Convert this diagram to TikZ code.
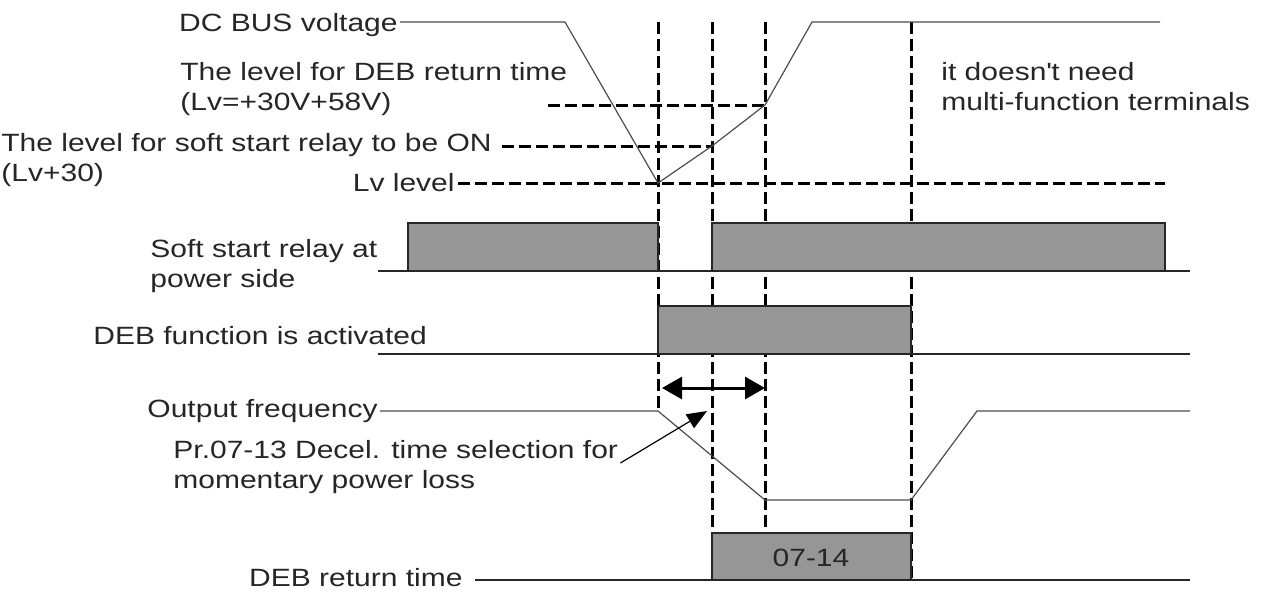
\documentclass[tikz,border=0pt]{standalone}
\usepackage{fontspec}
\setmainfont{Liberation Sans}[FakeStretch=1.2]
\usetikzlibrary{arrows.meta}
\definecolor{relaygray}{RGB}{150,150,150}

\begin{document}
\begin{tikzpicture}[x=0.5pt, y=-0.5pt,
  font=\fontsize{12.5}{15}\selectfont, text=black!85,
  lbl/.style={inner sep=0pt, align=left},
  sig/.style={draw=black!70, line width=0.6pt},
  rail/.style={draw=black!85, line width=0.6pt},
  lvl/.style={draw=black, line width=1.5pt, dash pattern=on 6pt off 2.5pt},
  onbox/.style={draw=black!85, fill=relaygray, line width=0.6pt},
  dbl/.style={{Triangle[length=10pt,width=11pt]}-{Triangle[length=10pt,width=11pt]}, line width=1.5pt},
  ptr/.style={-{Triangle[length=10pt,width=8pt]}, line width=0.6pt}]
  \useasboundingbox (0,0) rectangle (1270,591);
  % time instants (dashed markers)
  \foreach \x/\ybot in {658/411, 712/580, 765/533, 911/580}
    \draw[lvl] (\x,22) -- (\x,\ybot);
  % DC bus waveform corners
  \coordinate (bus1) at (565,22);
  \coordinate (bus2) at (658,183);
  \coordinate (ssR) at (712,146);
  \coordinate (bus3) at (765,105);
  \coordinate (bus4) at (812,22);
  \coordinate (bus5) at (1160,22);
  \coordinate (dbL) at (548,105);
  \coordinate (lvR) at (1165,183);
  % labels of the voltage part
  \node[lbl, anchor=base east] (dcbus) at (398,31) {DC BUS voltage};
  \node[lbl, anchor=north west] (deblv) at (180,62) {The level for DEB return time\\(Lv=+30V+58V)};
  \node[lbl, anchor=north west] (sson) at (1,133) {The level for soft start relay to be ON\\(Lv+30)};
  \node[lbl, anchor=base east] (lvlab) at (455,191) {Lv level};
  \node[lbl, anchor=north west] (noterm) at (941,62) {it doesn\textquotesingle t need\\multi-function terminals};
  % voltage levels
  \draw[lvl] (dbL) -- (bus3);
  \draw[lvl] ([xshift=5pt]sson.north east |- ssR) -- (ssR);
  \draw[lvl] ([xshift=1.5pt]lvlab.east |- bus2) -- (lvR);
  \draw[sig] ([xshift=1pt]dcbus.east |- bus1) -- (bus1) -- (bus2) -- (ssR) -- (bus3) -- (bus4) -- (bus5);
  % soft start relay row
  \node[lbl, anchor=north west] (relay) at (150,239) {Soft start relay at\\power side};
  \draw[onbox] (408,223) rectangle (658,271);
  \draw[onbox] (712,223) rectangle (1165,271);
  \coordinate (relR) at (1190,271);
  \draw[rail] (378,271) -- (relR);
  % DEB function row
  \node[lbl, anchor=base west] (debon) at (93,344) {DEB function is activated};
  \draw[onbox] (658,306) rectangle (911,354);
  \coordinate (debR) at (1190,354);
  \draw[rail] (378,354) -- (debR);
  % decel time span
  \coordinate (spanL) at (662,388);
  \coordinate (spanR) at (765,388);
  \draw[dbl] (spanL) -- (spanR);
  % output frequency
  \coordinate (f1) at (658,411);
  \coordinate (f2) at (765,500);
  \coordinate (f3) at (911,500);
  \coordinate (f4) at (977,411);
  \coordinate (f5) at (1190,411);
  \node[lbl, anchor=base east] (ofreq) at (378,417) {Output frequency};
  \draw[sig] ([xshift=1pt]ofreq.east |- f1) -- (f1) -- (f2) -- (f3) -- (f4) -- (f5);
  \node[lbl, anchor=north west] (decel) at (173,440) {Pr.07-13 Decel. time selection for\\momentary power loss};
  \coordinate (decelTip) at (707,411);
  \draw[ptr] ([shift={(1pt,-11.5pt)}]decel.north east) -- (decelTip);
  % DEB return time row
  \draw[onbox] (712,533) rectangle (911,580);
  \node (rtval) at (811,558) {07-14};
  \node[lbl, anchor=base east] (debret) at (463,586) {DEB return time};
  \coordinate (retR) at (1190,580);
  \draw[rail] ([xshift=6pt]debret.east |- retR) -- (retR);
\end{tikzpicture}
\end{document}
